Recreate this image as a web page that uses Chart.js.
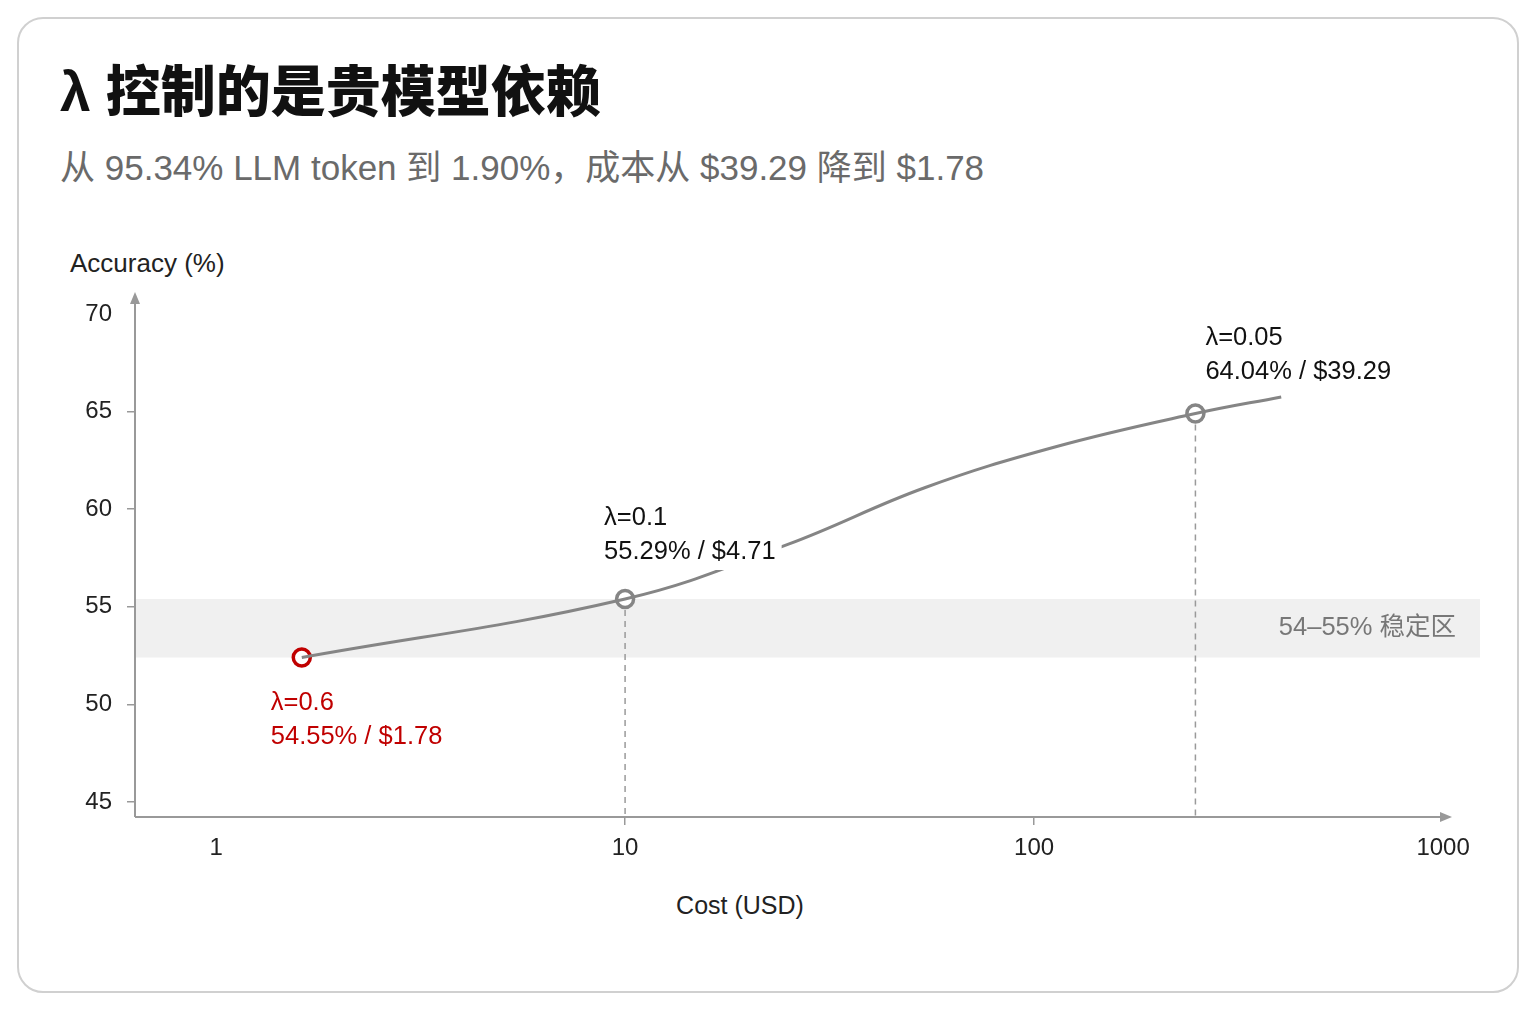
<!DOCTYPE html>
<html>
<head>
<meta charset="utf-8">
<script src="https://cdn.jsdelivr.net/npm/chart.js@4/dist/chart.umd.min.js"></script>
<style>
  html, body { margin: 0; padding: 0; background: #fff; }
  body { width: 1536px; height: 1024px; position: relative; overflow: hidden;
         font-family: "Liberation Sans", "Noto Sans CJK SC", sans-serif; }
  .card { position: absolute; left: 17px; top: 17px; width: 1502px; height: 976px;
          box-sizing: border-box; border: 2px solid #d0d0d0; border-radius: 26px; }
  .title { position: absolute; left: 60px; top: 64px; font-size: 55px; line-height: 56px;
           font-weight: 900; color: #111; white-space: nowrap; }
  .subtitle { position: absolute; left: 60px; top: 150px; font-size: 35px; line-height: 36px;
              color: #6a6a6a; white-space: nowrap; }
  .ytitle { position: absolute; left: 70px; top: 248px; font-size: 26px; line-height: 30px; color: #222; }
  .xtitle { position: absolute; left: 740px; top: 890px; transform: translateX(-50%);
            font-size: 25px; line-height: 30px; color: #222; }
  .wrap { position: absolute; left: 0; top: 0; width: 1536px; height: 1024px; }
</style>
</head>
<body>
<div class="card"></div>
<div class="title">λ 控制的是贵模型依赖</div>
<div class="subtitle">从 95.34% LLM token 到 1.90%，成本从 $39.29 降到 $1.78</div>
<div class="ytitle">Accuracy (%)</div>
<div class="xtitle">Cost (USD)</div>
<div class="wrap"><canvas id="c"></canvas></div>
<script>
// marker positions as drawn in the picture
const costs = [1.62, 10, 248];
const accuracy = [52.4, 55.4, 64.9];
const lambdas = ['λ=0.6', 'λ=0.1', 'λ=0.05'];
const notes = ['54.55% / $1.78', '55.29% / $4.71', '64.04% / $39.29'];

// points
const curveCost = [1.62, 10, 25, 54, 113, 248, 402];
const curveAcc = [52.4, 55.4, 58.2, 61.1, 63.2, 64.9, 65.75];

const band = [52.4, 55.4];
const bandLabel = '54–55% 稳定区';

const xTicks = [1, 10, 100, 1000];
const yTicks = [45, 50, 55, 60, 65, 70];

const FONT = '"Liberation Sans", "Noto Sans CJK SC", sans-serif';
const RED = '#c00000';
const GREY = '#858585';

const decor = {
  id: 'decor',
  beforeDatasetsDraw(chart) {
    const { ctx, chartArea: a, scales: { x, y } } = chart;
    ctx.save();
    // stable band
    const b0 = y.getPixelForValue(band[1]), b1 = y.getPixelForValue(band[0]);
    ctx.fillStyle = '#f0f0f0';
    ctx.fillRect(a.left, b0, a.right - a.left, b1 - b0);
    ctx.fillStyle = '#777';
    ctx.font = '25.5px ' + FONT;
    ctx.textAlign = 'right';
    ctx.textBaseline = 'middle';
    ctx.fillText(bandLabel, a.right - 24, (b0 + b1) / 2);

    // dashed drop lines
    ctx.strokeStyle = '#9a9a9a';
    ctx.lineWidth = 1.5;
    ctx.setLineDash([6, 5]);
    [1, 2].forEach(i => {
      const px = x.getPixelForValue(costs[i]);
      ctx.beginPath();
      ctx.moveTo(px, y.getPixelForValue(accuracy[i]));
      ctx.lineTo(px, a.bottom);
      ctx.stroke();
    });
    ctx.setLineDash([]);

    // axes with arrows
    ctx.strokeStyle = '#999';
    ctx.fillStyle = '#999';
    ctx.lineWidth = 2;
    const xEnd = a.right - 28;
    ctx.beginPath();
    ctx.moveTo(a.left, a.bottom);
    ctx.lineTo(a.left, a.top + 8);
    ctx.moveTo(a.left, a.bottom);
    ctx.lineTo(xEnd - 8, a.bottom);
    ctx.stroke();
    ctx.beginPath();
    ctx.moveTo(a.left, a.top);
    ctx.lineTo(a.left - 5, a.top + 12);
    ctx.lineTo(a.left + 5, a.top + 12);
    ctx.closePath();
    ctx.fill();
    ctx.beginPath();
    ctx.moveTo(xEnd, a.bottom);
    ctx.lineTo(xEnd - 12, a.bottom - 5);
    ctx.lineTo(xEnd - 12, a.bottom + 5);
    ctx.closePath();
    ctx.fill();
    ctx.restore();
  },
  afterDatasetsDraw(chart) {
    const { ctx, scales: { x, y } } = chart;
    ctx.save();
    ctx.font = '25.5px ' + FONT;
    ctx.textAlign = 'left';
    ctx.textBaseline = 'middle';
    const offs = [[-31, 45], [-21, -81], [10, -76]];
    costs.forEach((c, i) => {
      const px = x.getPixelForValue(c) + offs[i][0];
      const py = y.getPixelForValue(accuracy[i]) + offs[i][1];
      if (i === 1) {
        const w = Math.max(ctx.measureText(lambdas[i]).width, ctx.measureText(notes[i]).width);
        ctx.fillStyle = '#fff';
        ctx.fillRect(px - 4, py + 18, w + 10, 34);
      }
      ctx.fillStyle = i === 0 ? RED : '#111';
      ctx.fillText(lambdas[i], px, py);
      ctx.fillText(notes[i], px, py + 34);
    });
    ctx.restore();
  }
};

new Chart(document.getElementById('c'), {
  type: 'line',
  data: {
    datasets: [{
      data: curveCost.map((c, i) => ({ x: c, y: curveAcc[i] })),
      borderColor: GREY,
      borderWidth: 3,
      pointRadius: 0,
      tension: 0.4,
      fill: false
    }, {
      data: costs.map((c, i) => ({ x: c, y: accuracy[i] })),
      showLine: false,
      pointRadius: 8.5,
      pointBorderWidth: 3.5,
      pointBackgroundColor: '#fff',
      pointBorderColor: costs.map((c, i) => i === 0 ? RED : GREY)
    }]
  },
  options: {
    responsive: true,
    maintainAspectRatio: false,
    animation: false,
    layout: { padding: { left: 75, right: 56, top: 292, bottom: 147 } },
    plugins: { legend: { display: false }, tooltip: { enabled: false } },
    scales: {
      x: {
        type: 'logarithmic',
        bounds: 'data',
        min: 0.6335,
        max: 1231,
        afterBuildTicks: s => { s.ticks = xTicks.map(v => ({ value: v })); },
        afterFit: s => { s.height = 60; },
        border: { display: false },
        grid: {
          drawOnChartArea: false, drawTicks: true, tickLength: 8, lineWidth: 1.5,
          color: c => (c.tick && (c.tick.value === 10 || c.tick.value === 100)) ? '#999' : 'rgba(0,0,0,0)'
        },
        ticks: {
          color: '#222', padding: 9, maxRotation: 0, autoSkip: false,
          font: { family: FONT, size: 24 },
          callback: v => String(v)
        }
      },
      y: {
        type: 'linear',
        bounds: 'data',
        min: 44.232,
        max: 71.127,
        afterBuildTicks: s => { s.ticks = yTicks.map(v => ({ value: v })); },
        afterFit: s => { s.width = 60; },
        border: { display: false },
        grid: {
          drawOnChartArea: false, drawTicks: true, tickLength: 8, lineWidth: 1.5,
          color: c => (c.tick && c.tick.value === 70) ? 'rgba(0,0,0,0)' : '#999'
        },
        ticks: {
          color: '#222', padding: 15,
          font: { family: FONT, size: 24 },
          callback: v => String(v)
        }
      }
    }
  },
  plugins: [decor]
});
</script>
</body>
</html>
